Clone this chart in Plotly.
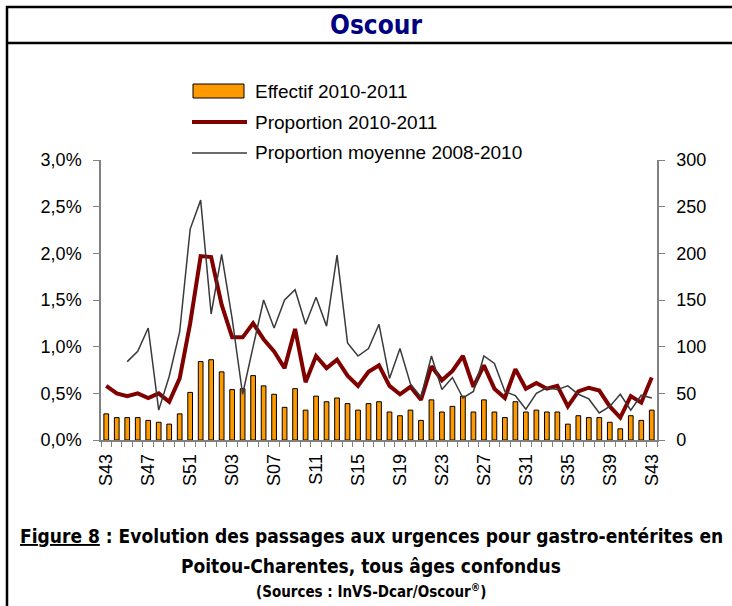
import plotly.graph_objects as go

# weeks S43 2010 -> S43 2011
weeks = list(range(43, 53)) + list(range(1, 44))
week_labels = ["S%02d" % w for w in weeks]

# number of passages (right axis)
effectif = [28, 24, 24, 24, 21, 19, 17, 28, 51, 84, 86, 73, 54, 55, 69, 58, 49, 35,
            55, 32, 47, 41, 45, 39, 32, 39, 41, 30, 26, 32, 21, 43, 30, 36, 47, 30,
            43, 30, 24, 41, 30, 32, 30, 30, 17, 26, 24, 24, 19, 12, 26, 21, 32]

# proportion 2010-2011 (%)
prop_2011 = [0.58, 0.50, 0.47, 0.50, 0.45, 0.50, 0.41, 0.66, 1.25, 1.97, 1.96, 1.45,
             1.10, 1.10, 1.25, 1.08, 0.95, 0.77, 1.19, 0.62, 0.90, 0.77, 0.86, 0.69,
             0.58, 0.73, 0.80, 0.58, 0.49, 0.57, 0.43, 0.79, 0.64, 0.74, 0.90, 0.57,
             0.80, 0.55, 0.45, 0.76, 0.55, 0.61, 0.55, 0.58, 0.36, 0.52, 0.56, 0.53,
             0.36, 0.24, 0.47, 0.40, 0.67]

# mean proportion 2008-2010 (%), no value for the first two weeks
prop_moy = [None, None, 0.84, 0.95, 1.20, 0.32, 0.68, 1.16, 2.26, 2.57, 1.35, 1.99,
            1.30, 0.49, 1.00, 1.50, 1.20, 1.50, 1.61, 1.24, 1.53, 1.22, 1.98, 1.04,
            0.90, 0.98, 1.24, 0.66, 0.98, 0.60, 0.46, 0.90, 0.54, 0.67, 0.45, 0.52,
            0.90, 0.82, 0.52, 0.475, 0.33, 0.50, 0.56, 0.54, 0.58, 0.49, 0.44, 0.29,
            0.36, 0.49, 0.32, 0.48, 0.45]

pct_ticks = [0, 0.5, 1.0, 1.5, 2.0, 2.5, 3.0]
pct_labels = [("%.1f%%" % v).replace(".", ",") for v in pct_ticks]
count_ticks = [0, 50, 100, 150, 200, 250, 300]

x = list(range(len(weeks)))
label_pos = x[::4]
label_txt = week_labels[::4]

# plot area in pixels (used to place decorations around it)
L, R, T, B = 101, 657, 160, 440
def px(v):
    return (v - L) / (R - L)
def py(v):
    return (B - v) / (B - T)

fig = go.Figure()
fig.add_trace(go.Bar(x=x, y=effectif, name="Effectif 2010-2011",
                     marker=dict(color="#FF9900", line=dict(color="#000000", width=1)),
                     yaxis="y"))
fig.add_trace(go.Scatter(x=x, y=prop_2011, name="Proportion 2010-2011", mode="lines",
                         line=dict(color="#800000", width=4), yaxis="y2"))
fig.add_trace(go.Scatter(x=x, y=prop_moy, name="Proportion moyenne 2008-2010", mode="lines",
                         line=dict(color="#3a3a3a", width=1.5), yaxis="y2"))

axfont = dict(family="Liberation Sans, Arial, sans-serif", size=18, color="#000000")

fig.update_layout(
    width=732, height=606,
    margin=dict(l=L, r=732 - R, t=T, b=606 - B),
    paper_bgcolor="white", plot_bgcolor="white",
    showlegend=False,
    bargap=0.55,
    xaxis=dict(range=[-0.5, len(x) - 0.5], tickmode="array", tickvals=label_pos, ticktext=label_txt,
               tickangle=-90, ticks="outside", ticklen=0, tickfont=axfont,
               showline=True, linecolor="#808080", linewidth=1.5, showgrid=False, zeroline=False,
               ticklabelstandoff=5,
               minor=dict(tickmode="array", tickvals=[i - 0.5 for i in range(len(x) + 1)],
                          ticks="outside", ticklen=5, tickcolor="#808080", tickwidth=1.2,
                          showgrid=False)),
    yaxis=dict(range=[0, 300], tickmode="array", tickvals=count_ticks, side="right",
               ticks="outside", ticklen=6, tickcolor="#808080", tickfont=axfont,
               showline=True, linecolor="#808080", linewidth=1.5, showgrid=False, zeroline=False,
               ticklabelstandoff=8),
    yaxis2=dict(range=[0, 3.0], tickmode="array", tickvals=pct_ticks, ticktext=pct_labels,
                overlaying="y", side="left",
                ticks="outside", ticklen=6, tickcolor="#808080", tickfont=axfont,
                showline=True, linecolor="#808080", linewidth=1.5, showgrid=False, zeroline=False,
                ticklabelstandoff=8),
)

# frame + header box
frame = dict(color="#000000", width=2.5)
fig.add_shape(type="line", xref="paper", yref="paper", x0=px(6), x1=px(732), y0=py(7), y1=py(7), line=frame)
fig.add_shape(type="line", xref="paper", yref="paper", x0=px(6), x1=px(732), y0=py(43), y1=py(43), line=frame)
fig.add_shape(type="line", xref="paper", yref="paper", x0=px(7), x1=px(7), y0=py(6), y1=py(606), line=frame)

narrow = "DejaVu Sans Condensed, Liberation Sans Narrow, Arial Narrow, sans-serif"
fig.add_annotation(text="<b>Oscour</b>", xref="paper", yref="paper", x=px(376), y=py(25),
                   xanchor="center", yanchor="middle",
                   showarrow=False, font=dict(family=narrow, size=26, color="#000080"))

# legend drawn by hand (wide symbols like the original)
legfont = dict(family="Liberation Sans, Arial, sans-serif", size=19, color="#000000")
fig.add_shape(type="rect", xref="paper", yref="paper", x0=px(193), x1=px(244), y0=py(98), y1=py(84),
              fillcolor="#FF9900", line=dict(color="#000000", width=1))
fig.add_shape(type="line", xref="paper", yref="paper", x0=px(192), x1=px(247), y0=py(122), y1=py(122),
              line=dict(color="#800000", width=4))
fig.add_shape(type="line", xref="paper", yref="paper", x0=px(192), x1=px(247), y0=py(153), y1=py(153),
              line=dict(color="#3a3a3a", width=1.5))
for name, ypix in [("Effectif 2010-2011", 91), ("Proportion 2010-2011", 122),
                   ("Proportion moyenne 2008-2010", 152)]:
    fig.add_annotation(text=name, xref="paper", yref="paper", x=px(253), y=py(ypix),
                       xanchor="left", yanchor="middle", showarrow=False, font=legfont)

# caption
capfont = dict(family=narrow, size=19, color="#000000")
fig.add_annotation(text="<b><u>Figure 8</u> : Evolution des passages aux urgences pour gastro-entérites en</b>",
                   xref="paper", yref="paper", x=px(371), y=py(536), xanchor="center", yanchor="middle",
                   showarrow=False, font=capfont)
fig.add_annotation(text="<b>Poitou-Charentes, tous âges confondus</b>",
                   xref="paper", yref="paper", x=px(371), y=py(566), xanchor="center", yanchor="middle",
                   showarrow=False, font=capfont)
fig.add_annotation(text="<b>(Sources : InVS-Dcar/Oscour<sup>®</sup>)</b>",
                   xref="paper", yref="paper", x=px(371), y=py(591), xanchor="center", yanchor="middle",
                   showarrow=False, font=dict(family=narrow, size=15, color="#000000"))

fig.write_html("out.html", config={"displayModeBar": False},
               post_script="document.body.style.margin='0';")
